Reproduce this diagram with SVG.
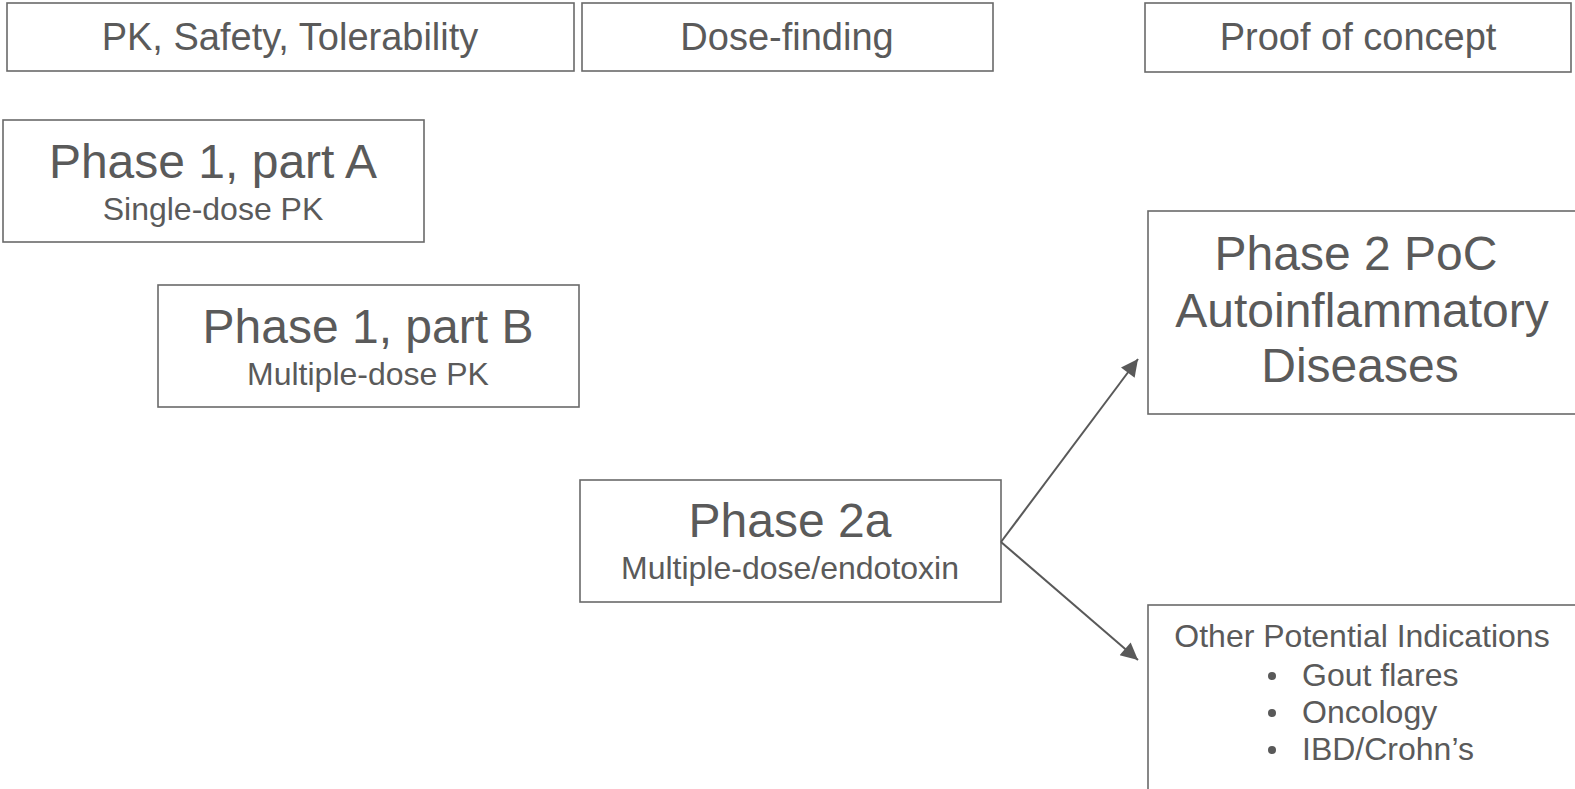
<svg xmlns="http://www.w3.org/2000/svg" width="1575" height="789" viewBox="0 0 1575 789">
<style>
.box{fill:#ffffff;stroke:#6a6a6a;stroke-width:1.6}
text{font-family:"Liberation Sans",Arial,sans-serif;fill:#5a5a5a;text-anchor:middle}
.hd{font-size:38px}
.t{font-size:48px}
.s{font-size:32px}
.l{text-anchor:start}
.conn{stroke:#595959;stroke-width:2;fill:none}
</style>
<defs>
<marker id="ah2" viewBox="0 0 10 10" refX="10" refY="5" markerWidth="20" markerHeight="17" markerUnits="userSpaceOnUse" orient="auto">
<path d="M0,0 L10,5 L0,10 z" fill="#595959"/>
</marker>
</defs>
<rect width="1575" height="789" fill="#ffffff"/>
<g id="hdr-pk"><rect class="box" x="7" y="3" width="567" height="68"/><text class="hd" x="290" y="50">PK, Safety, Tolerability</text></g>
<g id="hdr-dose"><rect class="box" x="582" y="3" width="411" height="68"/><text class="hd" x="787" y="50">Dose-finding</text></g>
<g id="hdr-poc"><rect class="box" x="1145" y="3" width="426" height="69"/><text class="hd" x="1358" y="50">Proof of concept</text></g>
<g id="p1a"><rect class="box" x="3" y="120" width="421" height="122"/><text class="t" x="213" y="178">Phase 1, part A</text><text class="s" x="213" y="220">Single-dose PK</text></g>
<g id="p1b"><rect class="box" x="158" y="285" width="421" height="122"/><text class="t" x="368" y="343">Phase 1, part B</text><text class="s" x="368" y="385">Multiple-dose PK</text></g>
<g id="p2a"><rect class="box" x="580" y="480" width="421" height="122"/><text class="t" x="790" y="537">Phase 2a</text><text class="s" x="790" y="579">Multiple-dose/endotoxin</text></g>
<g id="p2poc"><rect class="box" x="1148" y="211" width="430" height="203"/><text class="t" x="1356" y="270">Phase 2 PoC</text><text class="t" x="1362" y="327">Autoinflammatory</text><text class="t" x="1360" y="382">Diseases</text></g>
<g id="other"><rect class="box" x="1148" y="605" width="430" height="190"/><text class="s" x="1362" y="647">Other Potential Indications</text>
<circle cx="1272" cy="676" r="4" fill="#595959"/><text class="s l" x="1302" y="686">Gout flares</text>
<circle cx="1272" cy="713" r="4" fill="#595959"/><text class="s l" x="1302" y="723">Oncology</text>
<circle cx="1272" cy="750" r="4" fill="#595959"/><text class="s l" x="1302" y="760">IBD/Crohn’s</text></g>
<g id="connectors">
<line class="conn" x1="1001" y1="542" x2="1138" y2="359" marker-end="url(#ah2)"/>
<line class="conn" x1="1001" y1="542" x2="1138" y2="660" marker-end="url(#ah2)"/>
</g>
</svg>
